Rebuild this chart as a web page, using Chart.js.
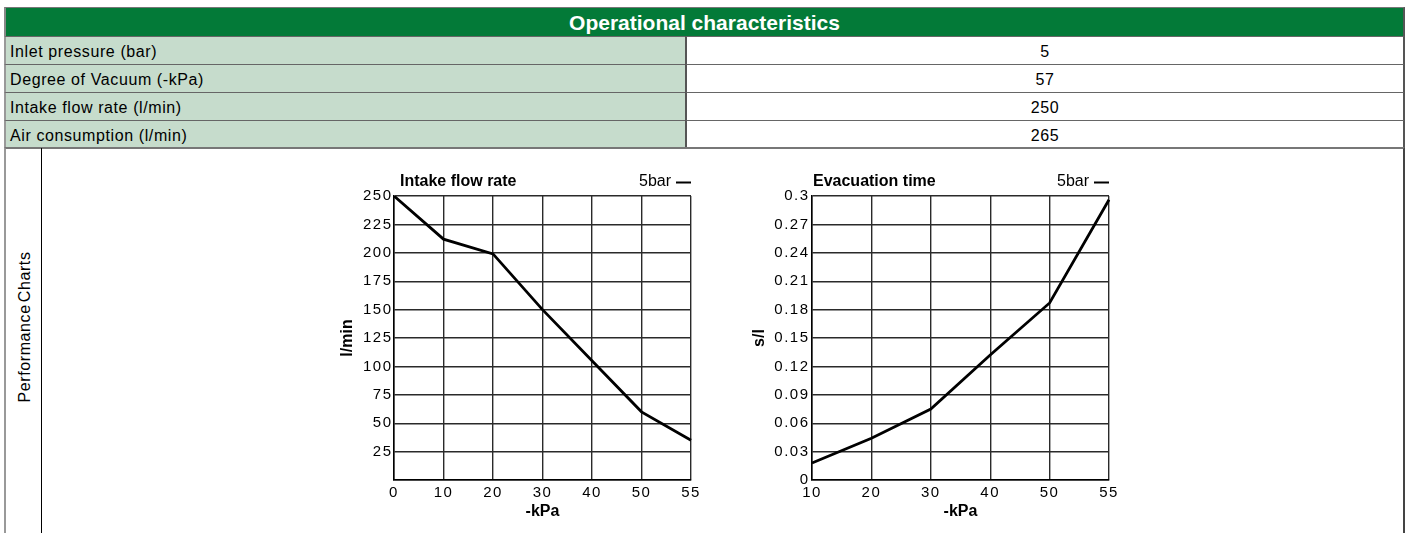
<!DOCTYPE html>
<html>
<head>
<meta charset="utf-8">
<script src="https://cdn.jsdelivr.net/npm/chart.js@4.4.1/dist/chart.umd.min.js"></script>
<style>
  body { margin: 0; background: #fff; font-family: "Liberation Sans", Arial, sans-serif; width: 1411px; height: 533px; overflow: hidden; position: relative; }
  .box { position: absolute; box-sizing: border-box; }
  #head { left: 4px; top: 7px; width: 1401px; height: 29px; background: #037a38; color: #fff; font-weight: bold; font-size: 21px; text-align: center; line-height: 29px; border-top: 1px solid #777; border-left: 2px solid #888; border-right: 2px solid #555; }
  .lab { left: 4px; width: 682px; height: 28px; background: #c6dccc; font-size: 16px; letter-spacing: 0.6px; line-height: 29px; padding-left: 4px; border-left: 2px solid #999; border-top: 1px solid #666; }
  .val { left: 685px; width: 720px; height: 28px; font-size: 16px; letter-spacing: 0.6px; line-height: 29px; text-align: center; border-left: 2px solid #555; border-right: 2px solid #555; border-top: 1px solid #666; }
  #charts { left: 4px; top: 147px; width: 1401px; height: 420px; border-left: 2px solid #999; border-right: 2px solid #444; border-top: 2px solid #777; }
  #divider { left: 41px; top: 148px; width: 1px; height: 420px; background: #000; }
  #side { left: 25px; top: 327px; transform: translate(-50%, -50%) rotate(-90deg); font-size: 16px; letter-spacing: 0.6px; word-spacing: -3px; white-space: nowrap; }
  canvas { position: absolute; }
</style>
</head>
<body>
<div class="box" id="head">Operational characteristics</div>
<div id="rows"></div>
<div class="box" id="charts"></div>
<div class="box" id="divider"></div>
<div class="box" id="side">Performance Charts</div>
<canvas id="flowChart" width="380" height="362" style="left:330px; top:168px;"></canvas>
<canvas id="evacChart" width="388" height="362" style="left:742px; top:168px;"></canvas>

<script>
// table rows
const rowLabels = ["Inlet pressure (bar)", "Degree of Vacuum (-kPa)", "Intake flow rate (l/min)", "Air consumption (l/min)"];
const rowValues = ["5", "57", "250", "265"];

// intake flow rate chart
const flowKpa = ["0", "10", "20", "30", "40", "50", "55"];
const flow5bar = [250, 212, 199, 150, 105, 60, 35];
const flowTicks = [0, 25, 50, 75, 100, 125, 150, 175, 200, 225, 250];
const flowTickLabels = ["", "25", "50", "75", "100", "125", "150", "175", "200", "225", "250"];

// evacuation time chart
const evacKpa = ["10", "20", "30", "40", "50", "55"];
const evac5bar = [0.018, 0.044, 0.075, 0.132, 0.187, 0.296];
const evacTicks = [0, 0.03, 0.06, 0.09, 0.12, 0.15, 0.18, 0.21, 0.24, 0.27, 0.3];
const evacTickLabels = ["0", "0.03", "0.06", "0.09", "0.12", "0.15", "0.18", "0.21", "0.24", "0.27", "0.3"];

const FONT = '"Liberation Sans", Arial, sans-serif';

let rowsDiv = document.getElementById("rows");
rowLabels.forEach((label, i) => {
    let top = 36 + i * 28;
    rowsDiv.innerHTML += `<div class="box lab" style="top:${top}px">${label}</div>` +
        `<div class="box val" style="top:${top}px">${rowValues[i]}</div>`;
});

Chart.defaults.color = "#000";
Chart.defaults.font.family = FONT;

// titles, "5bar —" key and axis names; tick digits get extra tracking like the print
const chartText = {
    id: "chartText",
    beforeDraw(chart) {
        chart.ctx.letterSpacing = "1.5px";
    },
    afterDraw(chart, args, opts) {
        let ctx = chart.ctx;
        let a = chart.chartArea;
        ctx.save();
        ctx.letterSpacing = "0px";
        ctx.fillStyle = "#000";
        ctx.textBaseline = "middle";

        ctx.font = "bold 16px " + FONT;
        ctx.textAlign = "left";
        ctx.fillText(opts.title, a.left + opts.titleDx, a.top - 14);

        ctx.font = "16px " + FONT;
        ctx.textAlign = "right";
        ctx.fillText(chart.data.datasets[0].label, a.right - 20, a.top - 14);
        ctx.strokeStyle = "#000";
        ctx.lineWidth = 2;
        ctx.beginPath();
        ctx.moveTo(a.right - 15, a.top - 13.5);
        ctx.lineTo(a.right, a.top - 13.5);
        ctx.stroke();

        ctx.font = "bold 16px " + FONT;
        ctx.textAlign = "center";
        ctx.fillText(opts.xTitle, (a.left + a.right) / 2, a.bottom + 32);

        ctx.translate(a.left - opts.yTitleDx, (a.top + a.bottom) / 2);
        ctx.rotate(-Math.PI / 2);
        ctx.fillText(opts.yTitle, 0, 0);
        ctx.restore();
    }
};

function makeChart(id, labels, values, ticks, tickLabels, yWidth, rightPad, tickPad, text) {
    let ctx = document.getElementById(id).getContext("2d");
    return new Chart(ctx, {
        type: "line",
        data: {
            labels: labels,
            datasets: [{
                label: "5bar",
                data: values,
                borderColor: "#000",
                borderWidth: 2.8,
                pointRadius: 0,
                tension: 0,
                fill: false
            }]
        },
        options: {
            responsive: false,
            animation: false,
            devicePixelRatio: 1,
            layout: { padding: { top: 28, right: rightPad, left: 0, bottom: 0 } },
            plugins: {
                legend: { display: false },
                tooltip: { enabled: false },
                chartText: text
            },
            scales: {
                x: {
                    type: "category",
                    offset: false,
                    grid: { color: "#2a2a2a", lineWidth: 1.4, drawTicks: false },
                    border: { color: "#000", width: 1.5 },
                    ticks: { font: { size: 15 }, padding: 4, maxRotation: 0, autoSkip: false },
                    afterFit: (scale) => { scale.height = 50; }
                },
                y: {
                    min: ticks[0],
                    max: ticks[ticks.length - 1],
                    grid: { color: "#2a2a2a", lineWidth: 1.4, drawTicks: false },
                    border: { color: "#000", width: 1.5 },
                    ticks: {
                        font: { size: 15 },
                        padding: tickPad,
                        callback: (v, i) => tickLabels[i]
                    },
                    afterBuildTicks: (scale) => { scale.ticks = ticks.map(v => ({ value: v })); },
                    afterFit: (scale) => { scale.width = yWidth; }
                }
            }
        },
        plugins: [chartText]
    });
}

makeChart("flowChart", flowKpa, flow5bar, flowTicks, flowTickLabels, 64, 19, 1.5,
    { title: "Intake flow rate", titleDx: 6, xTitle: "-kPa", yTitle: "l/min", yTitleDx: 46 });
makeChart("evacChart", evacKpa, evac5bar, evacTicks, evacTickLabels, 70, 21, 2.5,
    { title: "Evacuation time", titleDx: 1, xTitle: "-kPa", yTitle: "s/l", yTitleDx: 52 });
</script>
</body>
</html>
